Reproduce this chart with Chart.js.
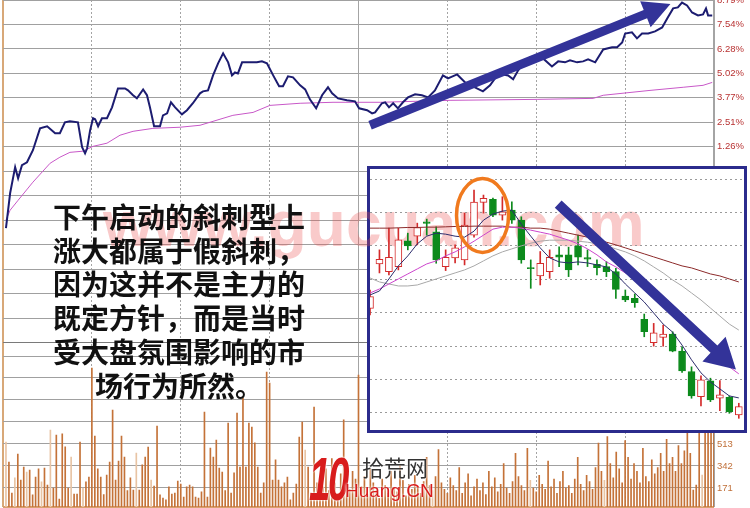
<!DOCTYPE html>
<html>
<head>
<meta charset="utf-8">
<script src="https://cdn.jsdelivr.net/npm/chart.js@4.4.1/dist/chart.umd.min.js"></script>
<style>
  html, body { margin: 0; padding: 0; background: #fff; }
  #wrap { position: relative; width: 750px; height: 508px; overflow: hidden; background: #fff; }
  #main { position: absolute; left: 0; top: 0; }
  #insetBox { position: absolute; left: 367px; top: 166px; width: 374px; height: 261px; border: 3px solid #2b2b8c; background: #fff; }
  #mark { position: absolute; left: 103px; top: 192px; font: bold 64px "Liberation Sans", Arial, sans-serif; line-height: 64px; color: rgba(235, 80, 80, 0.30); white-space: nowrap; }
  #insetWrap { position: absolute; left: 370px; top: 169px; width: 374px; height: 261px; }
  #note { position: absolute; left: 29px; top: 200px; width: 300px; text-align: center; font: 700 28px "Noto Sans CJK SC", sans-serif; line-height: 33.7px; color: #111; }
  #logo10 { position: absolute; left: 309px; top: 448px; font: italic 900 62px "Liberation Sans", Arial, sans-serif; line-height: 62px; color: #d81c1c; letter-spacing: -4px; transform: scaleX(0.62); transform-origin: 0 0; text-shadow: 0 0 3px #fff, 0 0 3px #fff; }
  #logoCn { position: absolute; left: 362px; top: 452px; font: 22px "Noto Sans CJK SC", sans-serif; line-height: 28px; color: #333; text-shadow: 0 0 3px #fff, 0 0 3px #fff; }
  #logoEn { position: absolute; left: 345px; top: 479px; font: 19px "Liberation Sans", Arial, sans-serif; line-height: 24px; color: #d81c1c; text-shadow: 0 0 3px #fff, 0 0 3px #fff; }
</style>
</head>
<body>
<div id="wrap">
  <canvas id="main" width="750" height="508"></canvas>
  <div id="insetBox"></div>
  <div id="mark">www.gucuan.com</div>
  <div id="insetWrap"><canvas id="inset" width="374" height="261"></canvas></div>
  <div id="note">下午启动的斜刺型上<br>涨大都属于假斜刺，<br>因为这并不是主力的<br>既定方针，而是当时<br>受大盘氛围影响的市<br>场行为所然。</div>
  <div id="logo10">10</div>
  <div id="logoCn">拾荒网</div>
  <div id="logoEn">Huang.CN</div>
</div>
<script>
// 分时价格（分钟, 涨幅%）
const priceMin = [1,2.4,4.1,5.1,6.4,8.1,10.1,12.5,14.9,17.6,19.2,20.9,22.6,25.3,26.7,27.7,28.4,29.4,30.4,31.1,
  32.1,33.4,35.1,36.8,38.8,41.2,42.2,43.9,45.2,47.3,48.6,49.6,51.0,53.0,54.0,55.4,56.7,58.1,60.4,62.1,
  64.1,66.5,67.5,69.2,70.9,72.6,74.3,76.0,77.3,78.3,79.3,80.7,82.7,85.7,87.4,89.1,91.2,93.2,94.5,96.2,
  97.9,100.3,102.0,103.6,105.7,107.7,109.7,111.1,113.1,116.1,118.8,120.2,122.9,124.6,125.6,127.9,129.0,130.3,131.7,133.3,
  135.0,136.7,139.1,141.4,143.5,145.8,148.5,150.2,153.3,156.0,159.3,162.0,164.4,166.8,168.8,170.5,172.2,173.9,175.5,177.9,
  180.3,182.3,185.3,187.4,189.7,191.4,193.8,195.8,197.5,199.9,200.9,202.6,205.6,207.3,209.0,210.0,212.3,214.0,215.7,217.8,
  220.1,222.5,224.2,226.2,227.8,229.2,230.9,232.6,234.6,236.3,237.3,238.0,239.4];
const pricePct = [-2.92,-1.13,0.21,-0.36,0.31,0.46,1.08,2.20,2.31,1.95,1.95,2.51,2.56,2.51,1.23,0.92,1.18,2.10,2.72,2.67,
  2.31,2.72,2.72,3.28,4.25,4.25,4.15,3.90,3.74,4.20,3.90,3.28,2.31,2.31,2.87,2.97,3.54,3.28,2.92,3.13,
  3.49,4.00,4.10,4.15,4.92,5.54,6.05,5.59,4.92,5.07,5.02,5.59,5.59,5.59,5.64,5.54,4.92,4.36,4.36,4.87,
  4.82,4.41,4.20,3.69,3.23,3.90,4.31,4.00,3.74,3.64,3.59,3.23,3.13,2.97,3.02,3.49,3.54,3.28,3.49,3.23,
  3.54,3.79,3.95,3.90,3.79,4.15,4.92,4.77,4.97,4.56,4.31,4.10,4.41,4.92,4.97,4.92,4.72,5.18,5.54,5.84,
  5.95,5.79,5.38,5.64,5.59,5.69,5.59,5.64,5.74,5.59,5.84,6.25,6.36,6.36,6.61,7.07,7.13,6.82,7.07,7.07,
  7.18,7.38,7.84,8.36,8.41,8.66,8.51,8.15,8.00,8.05,8.36,8.00,8.00];
// 均价线
const avgMin = [1.0,2.4,5.1,10.1,15.9,19.2,22.6,27.0,30.4,35.1,39.5,43.9,50.6,59.8,66.5,77.6,84.4,90.1,100.3,111.4,127.3,150.9,180.3,199.2,202.6,218.4,229.6,236.3,239.4];
const avgPct = [-2.51,-2.00,-1.49,-0.56,0.41,0.72,0.97,1.03,1.28,1.44,1.85,2.05,2.20,2.26,2.36,2.87,3.02,3.38,3.49,3.54,3.54,3.64,3.69,3.74,3.90,4.15,4.31,4.41,4.56];
// 每分钟成交量（下标 = 分钟）
const volume = [0,
  528,373,132,249,435,233,334,295,311,117,256,319,218,326,194,622,171,583,85,591,490,171,412,124,124,528,171,218,256,
  1103,575,319,256,120,272,373,777,233,381,575,412,150,249,155,443,155,350,412,489,233,186,653,117,93,78,179,124,132,225,
  202,101,179,194,179,101,93,140,761,101,482,412,544,326,295,150,676,132,288,754,334,870,334,676,645,521,334,132,210,1072,
  987,233,389,233,179,210,256,78,132,202,567,684,466,334,132,800,210,250,180,320,150,400,210,130,280,700,220,160,300,240,
  1049,180,260,120,320,210,150,90,240,190,130,300,170,140,350,230,110,200,160,270,180,130,220,410,190,150,260,470,210,160,
  130,250,190,150,330,130,210,280,110,180,240,150,210,120,300,180,250,140,200,360,170,130,220,440,260,190,150,480,230,170,
  140,270,200,160,380,180,240,130,220,300,170,190,130,240,410,200,150,270,220,160,330,520,300,230,570,360,250,450,320,210,
  540,410,240,360,300,210,480,260,220,390,280,330,440,300,550,360,410,300,500,360,460,640,440,155,194,950,272,1000,1150,1100,900];
const lightBars = [1,4,8,13,16,23,27,45,50,102,145,178,203,236];
// 坐标轴刻度
const pctTicks = [-8.79,-7.54,-6.28,-5.02,-3.77,-2.51,-1.26,0,1.26,2.51,3.77,5.02,6.28,7.54,8.79];
const volTicks = [23,171,342,513,684,855,1026,1197];

// 插图：日K线
const kOpen  = [13.13,14.46,14.23,14.38,15.15,15.29,15.72,15.42,14.38,14.64,14.58,15.32,16.30,16.39,15.92,16.07,15.77,14.35,14.10,14.23,
  14.73,14.73,15.00,14.65,14.45,14.38,14.23,13.50,13.43,12.80,12.10,12.26,12.36,11.85,11.24,10.49,10.96,10.44,10.47,9.94];
const kHigh  = [13.68,14.88,15.53,15.53,15.38,15.68,15.80,15.57,14.88,15.03,15.98,16.67,16.52,16.43,16.47,16.32,15.87,14.58,14.83,14.88,
  14.97,14.96,15.32,14.88,14.58,14.53,14.33,13.68,13.56,12.96,12.68,12.63,12.43,11.98,11.38,11.11,11.04,10.97,10.51,10.29];
const kLow   = [12.93,14.19,14.13,14.28,14.88,15.03,15.32,14.48,14.26,14.49,14.43,15.26,15.98,15.87,15.77,15.67,14.48,13.73,13.83,14.03,
  14.38,14.08,14.43,14.38,14.13,14.08,13.43,13.33,13.16,12.28,12.00,12.00,11.83,11.21,10.44,10.21,10.34,10.07,9.99,9.84];
const kClose = [13.48,14.60,14.66,15.18,15.00,15.55,15.67,14.58,14.66,14.94,15.62,16.31,16.42,15.92,16.02,15.77,14.58,14.32,14.48,14.66,
  14.66,14.28,14.66,14.60,14.35,14.23,13.70,13.38,13.30,12.43,12.40,12.36,11.85,11.26,10.51,10.99,10.39,10.54,10.04,10.19];
const ma5  = [13.53,13.65,14.01,14.40,14.70,15.06,15.29,15.38,15.35,15.29,15.26,15.44,15.77,15.95,16.04,16.07,15.65,15.29,14.94,14.64,
  14.52,14.49,14.52,14.49,14.43,14.37,14.16,13.86,13.59,13.32,12.99,12.66,12.42,12.03,11.59,11.20,10.93,10.72,10.51,10.45];
const ma10 = [13.59,13.71,13.86,14.01,14.16,14.31,14.46,14.55,14.70,14.82,14.97,15.14,15.32,15.50,15.56,15.56,15.53,15.47,15.41,15.35,
  15.26,15.17,15.06,14.91,14.73,14.52,14.37,14.19,14.04,13.89,13.68,13.44,13.20,12.90,12.60,12.27,11.94,11.65,11.38,11.17];
const ma30 = [14.04,13.92,13.86,13.80,13.80,13.83,13.92,14.01,14.10,14.19,14.28,14.40,14.55,14.70,14.82,14.91,15.00,15.08,15.14,15.17,
  15.17,15.17,15.14,15.11,15.06,15.00,14.91,14.82,14.70,14.55,14.37,14.19,13.98,13.80,13.59,13.38,13.14,12.90,12.66,12.48];
const ma60 = [15.53,15.53,15.53,15.54,15.55,15.55,15.56,15.56,15.57,15.58,15.58,15.59,15.59,15.59,15.59,15.56,15.56,15.53,15.53,15.50,
  15.44,15.38,15.32,15.26,15.17,15.11,15.03,14.94,14.85,14.76,14.67,14.58,14.49,14.40,14.34,14.25,14.16,14.10,14.01,13.92];
const insetGrid = [10,11,12,13,14,15,16,17];

Chart.defaults.font.family = '"Liberation Sans", Arial, sans-serif';

function drawArrow(ctx, x1, y1, x2, y2, shaft, headLen, headHalf, color) {
  const len = Math.hypot(x2 - x1, y2 - y1);
  ctx.save();
  ctx.translate(x1, y1);
  ctx.rotate(Math.atan2(y2 - y1, x2 - x1));
  ctx.fillStyle = color;
  ctx.beginPath();
  ctx.moveTo(0, -shaft / 2);
  ctx.lineTo(len - headLen, -shaft / 2);
  ctx.lineTo(len - headLen, -headHalf);
  ctx.lineTo(len, 0);
  ctx.lineTo(len - headLen, headHalf);
  ctx.lineTo(len - headLen, shaft / 2);
  ctx.lineTo(0, shaft / 2);
  ctx.closePath();
  ctx.fill();
  ctx.restore();
}

// 右侧坐标不留额外边距
function fitRight(s) {
  s.width = 36;
  s.paddingTop = 0;
  s.paddingBottom = 0;
}

const mainArrow = {
  id: 'mainArrow',
  afterDatasetsDraw(chart) {
    const x = chart.scales.x, y = chart.scales.yP;
    drawArrow(chart.ctx, x.getPixelForValue(123.9), y.getPixelForValue(2.36),
      x.getPixelForValue(225.3), y.getPixelForValue(8.58), 9, 27, 14, '#333399');
  }
};

new Chart(document.getElementById('main'), {
  type: 'bar',
  data: {
    datasets: [
      {
        type: 'line', label: '价格', yAxisID: 'yP',
        data: priceMin.map((m, i) => ({x: m, y: pricePct[i]})),
        borderColor: '#1c1c70', borderWidth: 2, pointRadius: 0, tension: 0
      },
      {
        type: 'line', label: '均价', yAxisID: 'yP',
        data: avgMin.map((m, i) => ({x: m, y: avgPct[i]})),
        borderColor: '#c858c8', borderWidth: 1, pointRadius: 0, tension: 0
      },
      {
        type: 'bar', label: '成交量', yAxisID: 'yV',
        data: volume.map((v, i) => ({x: i, y: v})),
        barThickness: 1,
        backgroundColor: volume.map((v, i) => lightBars.includes(i) ? '#e8c4a4' : '#c47238')
      }
    ]
  },
  options: {
    responsive: false,
    animation: false,
    layout: {autoPadding: false, padding: {left: 3, right: 0, top: 0, bottom: 1}},
    plugins: {legend: {display: false}, tooltip: {enabled: false}},
    scales: {
      x: {
        type: 'linear', min: 0, max: 240, offset: false,
        ticks: {display: false, stepSize: 30},
        grid: {
          offset: false,
          drawTicks: false,
          color: c => c.tick && c.tick.value === 0 ? '#d8a878' : '#a4a4a4',
          lineWidth: c => c.tick && (c.tick.value === 0 || c.tick.value === 240) ? 2 : 1
        },
        border: {display: false, dash: c => (c.tick && c.tick.value % 120 !== 0) ? [2, 2] : []}
      },
      yP: {
        type: 'linear', position: 'right', stack: 'v', stackWeight: 342.5,
        min: -8.79, max: 8.79,
        afterBuildTicks: s => { s.ticks = pctTicks.map(v => ({value: v})); },
        afterFit: fitRight,
        ticks: {color: '#b83232', font: {size: 9.5}, padding: 3, autoSkip: false,
          callback: v => v.toFixed(2) + '%'},
        grid: {drawTicks: false, color: c => c.tick && c.tick.value === -8.79 ? '#7a7a7a' : '#a0a0a0'},
        border: {display: false}
      },
      yV: {
        type: 'linear', position: 'right', stack: 'v', stackWeight: 164.5,
        min: 23, max: 1302,
        afterBuildTicks: s => { s.ticks = volTicks.map(v => ({value: v})); },
        afterFit: fitRight,
        ticks: {color: '#c0703a', font: {size: 9.5}, padding: 3, autoSkip: false,
          callback: v => v === 23 ? '' : String(v)},
        grid: {drawTicks: false,
          color: c => c.tick && c.tick.value === 23 ? '#d8a070' : '#a0a0a0',
          lineWidth: c => c.tick && c.tick.value === 23 ? 2 : 1},
        border: {display: false}
      }
    }
  },
  plugins: [mainArrow]
});

// 插图
const idx = kOpen.map((v, i) => i);
const isUp = idx.map(i => kClose[i] >= kOpen[i]);
const RED = '#d42a2a', GREEN = '#0c8a1c';

const insetMarks = {
  id: 'insetMarks',
  afterDatasetsDraw(chart) {
    const x = chart.scales.x, y = chart.scales.y, ctx = chart.ctx;
    ctx.save();
    ctx.strokeStyle = '#f07a1e';
    ctx.lineWidth = 3.5;
    ctx.beginPath();
    ctx.ellipse(x.getPixelForValue(11.9), y.getPixelForValue(15.91), 26, 37, 0, 0, Math.PI * 2);
    ctx.stroke();
    ctx.restore();
    drawArrow(ctx, x.getPixelForValue(19.9), y.getPixelForValue(16.25),
      x.getPixelForValue(38.7), y.getPixelForValue(11.3), 10, 30, 17, '#333399');
  }
};

new Chart(document.getElementById('inset'), {
  type: 'bar',
  data: {
    datasets: [
      {type: 'line', data: idx.map(i => ({x: i, y: ma5[i]})), borderColor: '#2c2c6c', borderWidth: 1, pointRadius: 0},
      {type: 'line', data: idx.map(i => ({x: i, y: ma10[i]})), borderColor: '#cc44cc', borderWidth: 1, pointRadius: 0},
      {type: 'line', data: idx.map(i => ({x: i, y: ma30[i]})), borderColor: '#a8a8a8', borderWidth: 1, pointRadius: 0},
      {type: 'line', data: idx.map(i => ({x: i, y: ma60[i]})), borderColor: '#8c2a2a', borderWidth: 1, pointRadius: 0},
      {
        type: 'bar', grouped: false, barThickness: 7, minBarLength: 1,
        data: idx.map(i => ({x: i, y: [Math.min(kOpen[i], kClose[i]), Math.max(kOpen[i], kClose[i])]})),
        backgroundColor: idx.map(i => isUp[i] ? '#ffffff' : GREEN),
        borderColor: idx.map(i => isUp[i] ? RED : GREEN),
        borderWidth: 1, borderSkipped: false
      },
      {
        type: 'bar', grouped: false, barThickness: 1,
        data: idx.map(i => ({x: i, y: [kLow[i], kHigh[i]]})),
        backgroundColor: idx.map(i => isUp[i] ? RED : GREEN)
      }
    ]
  },
  options: {
    responsive: false,
    animation: false,
    layout: {autoPadding: false, padding: 0},
    plugins: {legend: {display: false}, tooltip: {enabled: false}},
    scales: {
      x: {type: 'linear', min: 0, max: 39.55, offset: false, display: false},
      y: {
        min: 9.49, max: 17.30,
        afterBuildTicks: s => { s.ticks = insetGrid.map(v => ({value: v})); },
        afterFit: s => { s.width = 0; },
        ticks: {display: false},
        grid: {drawTicks: false, color: '#9a9a9a'},
        border: {display: false, dash: [2, 3]}
      }
    }
  },
  plugins: [insetMarks]
});
</script>
</body>
</html>
